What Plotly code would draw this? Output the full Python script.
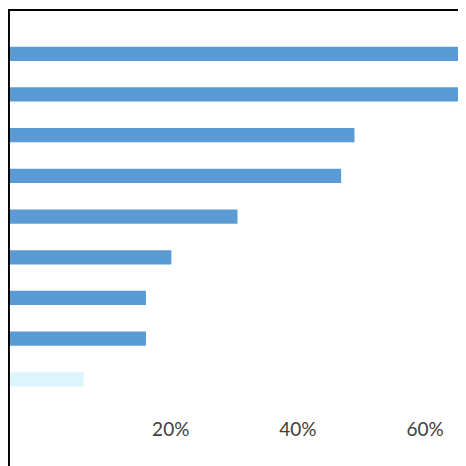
import plotly.graph_objects as go

values = [0.70, 0.70, 0.489, 0.468, 0.305, 0.201, 0.161, 0.161, 0.063]
colors = ["#5B9BD5"] * 8 + ["#DDF4FA"]
positions = list(range(len(values)))
x_start = -0.06  # bars run in from beyond the left edge of the crop

fig = go.Figure(go.Bar(
    x=[v - x_start for v in values], base=x_start, y=positions, orientation="h",
    marker=dict(color=colors, line=dict(width=0)),
    width=0.35,
))

fig.update_layout(
    width=466, height=466,
    margin=dict(l=0, r=0, t=0, b=58),
    plot_bgcolor="white", paper_bgcolor="white",
    showlegend=False,
    xaxis=dict(range=[-0.056, 0.677], tickvals=[0.2, 0.4, 0.6],
               tickformat=".0%", showgrid=False, zeroline=False,
               tickfont=dict(family="Lato", size=19, color="#404040"),
               ticks="", ticklen=0),
    yaxis=dict(range=[8.9, -1.125], showticklabels=False,
               showgrid=False, zeroline=False),
    shapes=[dict(type="rect", xref="paper", yref="paper",
                 x0=0.002, x1=0.998, y0=-0.135, y1=0.995,
                 line=dict(color="black", width=2))],
)

fig.write_html("out.html")
